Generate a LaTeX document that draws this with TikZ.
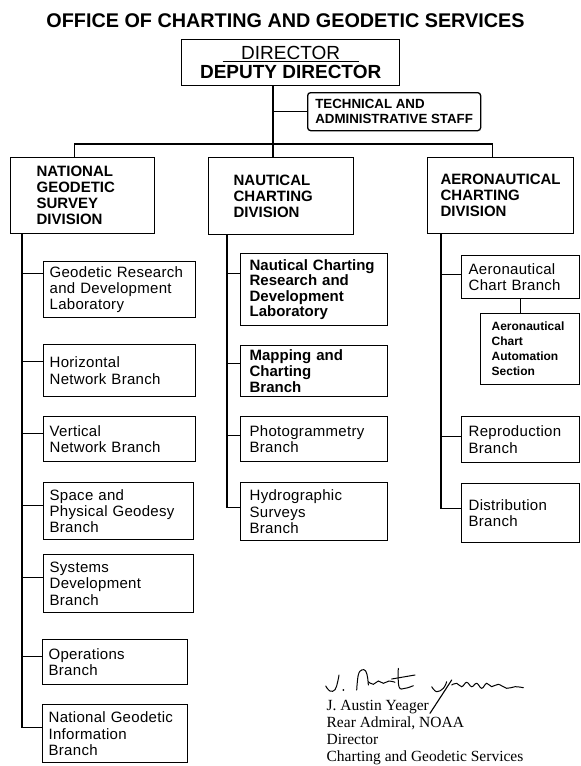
\documentclass[tikz,border=0pt]{standalone}
\usepackage{fontspec}
\setmainfont{Liberation Sans}
\newfontfamily\boxfont[LetterSpace=2]{Liberation Sans}
\newfontfamily\sigfont{Liberation Serif}
\usetikzlibrary{calc}
\hyphenpenalty=10000

\begin{document}
\begin{tikzpicture}[x=1pt,y=-1pt,line width=1.3pt,
	division/.style={draw,align=left,anchor=north west,font=\bfseries\fontsize{15}{16}\selectfont},
	branch/.style={draw,align=left,anchor=north west,inner xsep=6pt,font=\boxfont\fontsize{15}{16.3}\selectfont},
	midbranch/.style={branch,inner xsep=9pt,text width=129pt},
	aerobranch/.style={branch,inner xsep=7pt,text width=104pt}]
	\useasboundingbox (0,0) rectangle (581,766);

	\draw (285.5,21) node (title) [font=\bfseries\fontsize{19.8}{22}\selectfont] {OFFICE OF CHARTING AND GEODETIC SERVICES};
	\draw (181,39) node (dir) [draw,anchor=north west,minimum width=218,minimum height=46,align=center,font=\fontsize{19}{19}\selectfont] {\underline{\makebox[136pt]{DIRECTOR}}\\\bfseries DEPUTY DIRECTOR};
	\draw (307,92) node (staff) [draw,rounded corners=3pt,anchor=north west,minimum width=173,minimum height=38,align=left,font=\bfseries\fontsize{13.3}{15}\selectfont] {TECHNICAL AND\\ADMINISTRATIVE STAFF};
	\coordinate (trunk) at (273,144);

	\draw (10,157) node (ngs) [division,inner xsep=26pt,text width=92pt,minimum height=76] {NATIONAL\\GEODETIC\\SURVEY\\DIVISION};
	\draw (208,157) node (naut) [division,inner xsep=25pt,text width=95pt,minimum height=77] {NAUTICAL\\CHARTING\\DIVISION};
	\draw (427,157) node (aero) [division,minimum width=146,minimum height=76] {AERONAUTICAL\\CHARTING\\DIVISION};

	\draw (43,261) node (geo) [branch,text width=140pt,minimum height=56] {Geodetic Research\\and Development\\Laboratory};
	\draw (43,344) node (hor) [branch,text width=140pt,minimum height=52] {Horizontal\\Network Branch};
	\draw (43,416) node (ver) [branch,text width=140pt,minimum height=45] {Vertical\\Network Branch};
	\draw (43,482) node (spa) [branch,text width=138pt,minimum height=57] {Space and\\Physical Geodesy\\Branch};
	\draw (43,554) node (sys) [branch,text width=138pt,minimum height=58] {Systems\\Development\\Branch};
	\draw (42,639) node (ops) [branch,text width=133pt,minimum height=45] {Operations\\Branch};
	\draw (42,704) node (ngdi) [branch,text width=133pt,minimum height=58] {National Geodetic\\Information\\Branch};

	\draw (240,253) node (ncrd) [midbranch,minimum height=72,font=\bfseries\fontsize{15}{15.6}\selectfont] {Nautical Charting\\Research and\\Development\\Laboratory};
	\draw (240,345) node (map) [midbranch,minimum height=51,font=\bfseries\fontsize{15}{15.6}\selectfont] {Mapping and\\Charting\\Branch};
	\draw (240,416) node (photo) [midbranch,minimum height=45] {Photogrammetry\\Branch};
	\draw (240,482) node (hydro) [midbranch,minimum height=58] {Hydrographic\\Surveys\\Branch};

	\draw (461,255) node (chart) [aerobranch,minimum height=43,font=\boxfont\fontsize{15}{15.5}\selectfont] {Aeronautical\\Chart Branch};
	\draw (480,313) node (auto) [branch,inner xsep=11pt,text width=77pt,minimum height=71,font=\bfseries\fontsize{12}{15}\selectfont] {Aeronautical\\Chart\\Automation\\Section};
	\draw (461,416) node (repro) [aerobranch,minimum height=46] {Reproduction\\Branch};
	\draw (461,483) node (dist) [aerobranch,minimum height=59,font=\boxfont\fontsize{15}{15.5}\selectfont] {Distribution\\Branch};

	\draw (dir.south -| trunk) -- (trunk |- naut.north);
	\draw (staff.west) -- (staff.west -| trunk);
	\draw ([xshift=-8pt]ngs.north) |- (trunk) -| ([xshift=-8pt]aero.north);

	\draw ([xshift=12pt]ngs.south west) |- ([yshift=6pt]ngdi.west);
	\draw ([yshift=16pt]geo.west) -- ++(-21,0);
	\draw ([yshift=9pt]hor.west) -- ++(-21,0);
	\draw ([yshift=5.5pt]ver.west) -- ++(-21,0);
	\draw ([yshift=5.5pt]spa.west) -- ++(-21,0);
	\draw ([yshift=6pt]sys.west) -- ++(-21,0);
	\draw ([yshift=5.5pt]ops.west) -- ++(-20,0);

	\draw ([xshift=19pt]naut.south west) |- ([yshift=4pt]hydro.west);
	\draw ([yshift=16pt]ncrd.west) -- ++(-13,0);
	\draw ([yshift=7.5pt]map.west) -- ++(-13,0);
	\draw ([yshift=3.5pt]photo.west) -- ++(-13,0);

	\draw ([xshift=14pt]aero.south west) |- ([yshift=4.5pt]dist.west);
	\draw ([yshift=2.5pt]chart.west) -- ++(-20,0);
	\draw ([yshift=3pt]repro.west) -- ++(-20,0);
	\draw (chart.south) -- (chart.south |- auto.north);

	\draw (326,700) node (sig) [anchor=north west,inner sep=0pt,align=left,font=\sigfont\fontsize{15.5}{16.7}\selectfont] {J. Austin Yeager\\Rear Admiral, NOAA\\Director\\Charting and Geodetic Services};
	\draw[line width=1pt,line cap=round] plot[smooth,tension=0.7] coordinates {(325.7,686) (330,691) (335,689.7) (337.7,681.7) (339,675)};
	\fill (343.3,690) circle (1pt);
	\draw[line width=1pt,line cap=round] plot[smooth,tension=0.7] coordinates {(356.7,690) (358.3,675) (361.7,670) (365.7,671) (367.7,678.3) (368.3,685)};
	\draw[line width=1pt,line cap=round] plot[smooth,tension=0.7] coordinates {(368.3,681.7) (373.3,684.3) (378.3,681) (383.3,683.3) (389,681) (395,682.3)};
	\draw[line width=1pt,line cap=round] plot[smooth,tension=0.7] coordinates {(398.3,668.3) (399,686.7) (405,688.3) (413.3,685.7)};
	\draw[line width=1pt,line cap=round] (391.7,679) -- (415,675);
	\draw[line width=1pt,line cap=round] plot[smooth,tension=0.7] coordinates {(431.7,686.7) (436.7,691.7) (443.3,688.3) (446.7,681.7)};
	\draw[line width=1.1pt,line cap=round] (451.7,680) -- (430,713.3);
	\draw[line width=1pt,line cap=round] plot[smooth,tension=0.7] coordinates {(451.7,685) (456.7,683.3) (461.7,686.7) (466.7,682.3) (471.7,686.7) (476.7,683.3) (481.7,688.3) (486.7,683.3) (491.7,686.7) (498.3,684.3) (506.7,688.3) (515,686.7) (523.3,687.7)};
\end{tikzpicture}
\end{document}
